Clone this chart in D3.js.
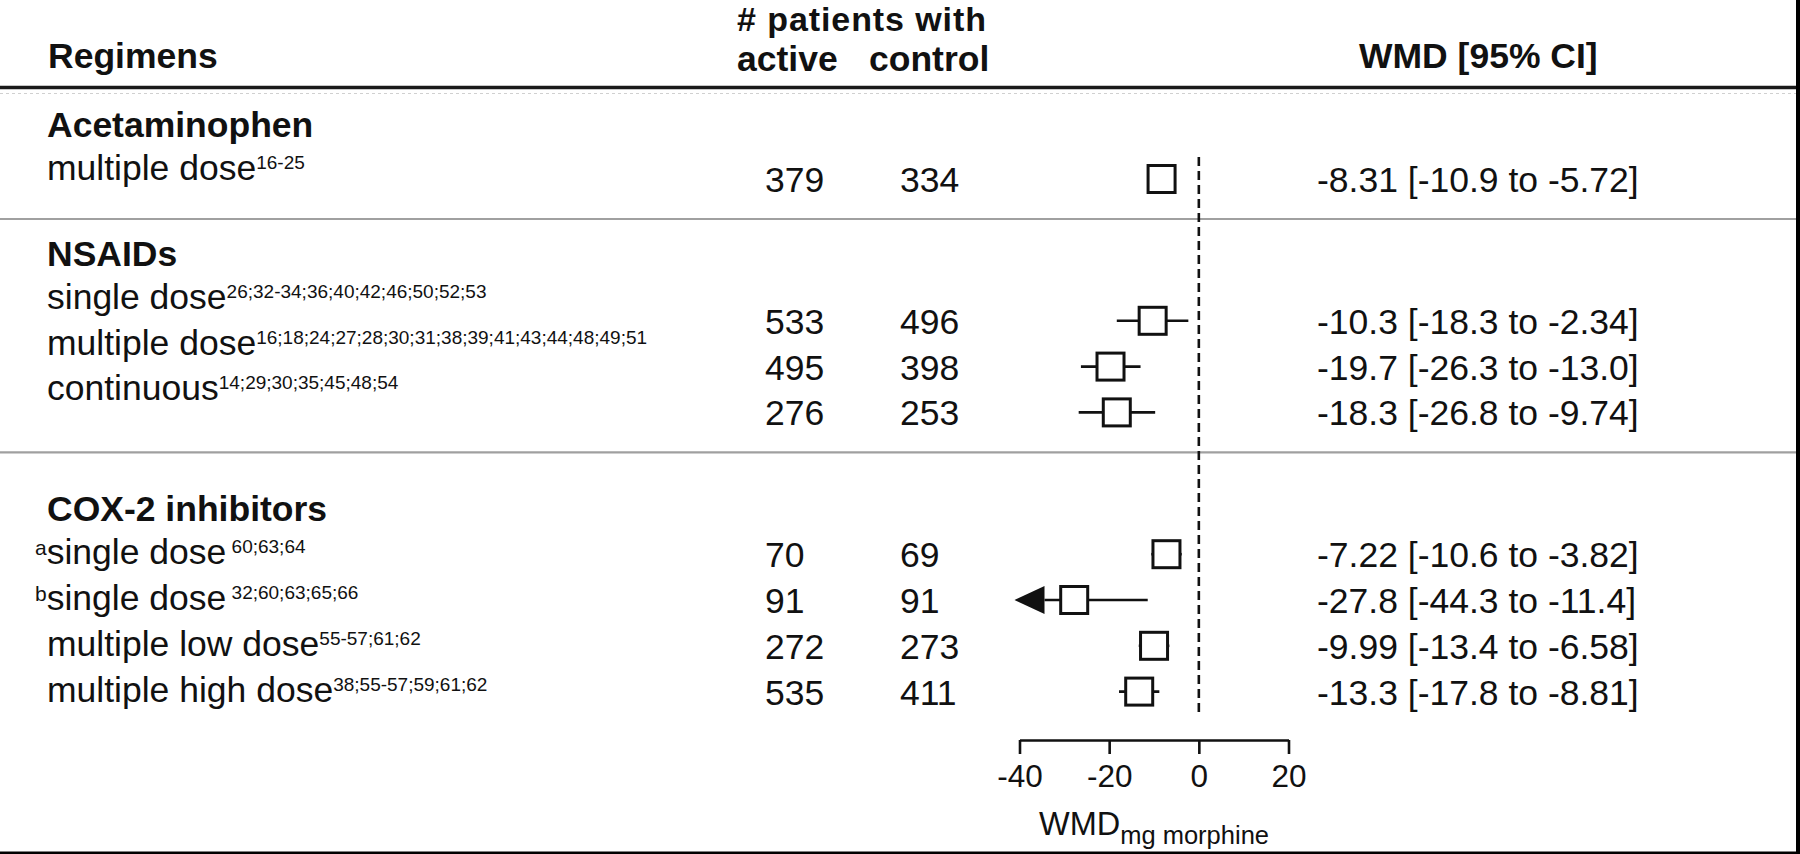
<!DOCTYPE html>
<html>
<head>
<meta charset="utf-8">
<script src="https://cdn.jsdelivr.net/npm/d3@7"></script>
<style>
  html, body { margin: 0; padding: 0; background: #fff; }
  svg { display: block; }
  text { font-family: "Liberation Sans", Arial, sans-serif; fill: #111; }
</style>
</head>
<body>
<script>
// ---------------- data ----------------
const groups = ["Acetaminophen", "NSAIDs", "COX-2 inhibitors"];
const rowGroup = [0, 1, 1, 1, 2, 2, 2, 2];
const rowPrefix = ["", "", "", "", "a", "b", "", ""];
const rowLabels = ["multiple dose", "single dose", "multiple dose", "continuous",
                   "single dose", "single dose", "multiple low dose", "multiple high dose"];
const rowRefs = ["16-25", "26;32-34;36;40;42;46;50;52;53",
                 "16;18;24;27;28;30;31;38;39;41;43;44;48;49;51", "14;29;30;35;45;48;54",
                 " 60;63;64", " 32;60;63;65;66", "55-57;61;62", "38;55-57;59;61;62"];
const activeN  = [379, 533, 495, 276, 70, 91, 272, 535];
const controlN = [334, 496, 398, 253, 69, 91, 273, 411];
const wmd   = [-8.31, -10.3, -19.7, -18.3, -7.22, -27.8, -9.99, -13.3];
const lower = [-10.9, -18.3, -26.3, -26.8, -10.6, -44.3, -13.4, -17.8];
const upper = [-5.72, -2.34, -13.0, -9.74, -3.82, -11.4, -6.58, -8.81];
const tickValues = [-40, -20, 0, 20];
const xDomain = [-40, 20];

// ---------------- layout ----------------
const W = 1800, H = 854;
const FS = 35.5;
const loc = d3.formatLocale({decimal: ".", thousands: ",", grouping: [3], currency: ["$", ""], minus: "-"});
const f3 = loc.format(".3r");

const svg = d3.select("body").append("svg").attr("width", W).attr("height", H);

const x = d3.scaleLinear().domain(xDomain).range([1019.5, 1288.5]);

// row baseline positions from row index and group index
const rowStep = 45.8, groupGap = 96, firstRow = 192;
const rowY = d3.scaleLinear().domain([0, 1]).range([firstRow, firstRow + rowStep]);
const rows = activeN.map((a, i) => ({
  i, g: rowGroup[i], prefix: rowPrefix[i], label: rowLabels[i], refs: rowRefs[i],
  active: a, control: controlN[i], wmd: wmd[i], lo: lower[i], hi: upper[i],
  y: rowY(i) + rowGroup[i] * groupGap
}));
const labelShift = [12, 25, 3];
rows.forEach(r => { r.ly = r.y - labelShift[r.g]; r.my = r.y - 13; });

// ---------------- frame lines ----------------
svg.append("line").attr("x1", 0).attr("x2", 1796).attr("y1", 87.5).attr("y2", 87.5)
  .attr("stroke", "#1a1a1a").attr("stroke-width", 3.5);
svg.append("line").attr("x1", 0).attr("x2", 1796).attr("y1", 93.5).attr("y2", 93.5)
  .attr("stroke", "#d0d0d0").attr("stroke-width", 1.2).attr("stroke-dasharray", "3,3");

groups.forEach((gname, gi) => {
  const gr = rows.filter(r => r.g === gi);
  svg.append("text").attr("x", 47).attr("y", gr[0].ly - 43)
    .attr("font-size", FS).attr("font-weight", "bold").text(gname);
  if (gi < groups.length - 1) {
    const sy = gr[gr.length - 1].y + 27;
    svg.append("line").attr("x1", 0).attr("x2", 1796).attr("y1", sy).attr("y2", sy)
      .attr("stroke", "#a0a0a0").attr("stroke-width", 2.2);
  }
});

// borders (right and bottom)
svg.append("rect").attr("x", 1796).attr("y", 0).attr("width", 4).attr("height", H).attr("fill", "#000");
svg.append("rect").attr("x", 0).attr("y", 851.5).attr("width", W).attr("height", 2.5).attr("fill", "#000");

// ---------------- header ----------------
const hdr = svg.append("g").attr("font-weight", "bold").attr("font-size", FS);
hdr.append("text").attr("x", 48).attr("y", 68).text("Regimens");
hdr.append("text").attr("x", 737).attr("y", 31).attr("font-size", 34).attr("textLength", 249)
  .text("# patients with");
hdr.append("text").attr("x", 737).attr("y", 70.5).text("active");
hdr.append("text").attr("x", 869).attr("y", 70.5).text("control");
hdr.append("text").attr("x", 1359).attr("y", 68).text("WMD [95% CI]");

// ---------------- row labels ----------------
const lab = svg.append("g").selectAll("text").data(rows).join("text")
  .attr("x", d => d.prefix ? 35 : 47).attr("y", d => d.ly).attr("font-size", FS);
lab.filter(d => d.prefix).append("tspan").attr("font-size", 21).attr("dy", -9).text(d => d.prefix);
lab.append("tspan").attr("dy", d => d.prefix ? 9 : 0).text(d => d.label);
lab.append("tspan").attr("font-size", 19).attr("dy", -11).text(d => d.refs);

// ---------------- counts ----------------
svg.append("g").selectAll("text").data(rows).join("text")
  .attr("x", 765).attr("y", d => d.y).attr("font-size", FS).text(d => d.active);
svg.append("g").selectAll("text").data(rows).join("text")
  .attr("x", 900).attr("y", d => d.y).attr("font-size", FS).text(d => d.control);

// ---------------- CI text ----------------
svg.append("g").selectAll("text").data(rows).join("text")
  .attr("x", 1317).attr("y", d => d.y).attr("font-size", FS)
  .text(d => `${f3(d.wmd)} [${f3(d.lo)} to ${f3(d.hi)}]`);

// ---------------- forest plot ----------------
const plot = svg.append("g");
plot.append("line").attr("x1", x(0)).attr("x2", x(0))
  .attr("y1", rows[0].my - 22).attr("y2", rows[rows.length - 1].my + 25)
  .attr("stroke", "#111").attr("stroke-width", 2.6).attr("stroke-dasharray", "9,5");

const sq = 27;
const arrowLen = 30, arrowH = 28;
rows.forEach(r => {
  const clipped = r.lo < xDomain[0];
  const tip = x(xDomain[0]) - 5;
  const x1 = clipped ? tip + arrowLen : x(r.lo);
  plot.append("line").attr("x1", x1).attr("x2", x(r.hi)).attr("y1", r.my).attr("y2", r.my)
    .attr("stroke", "#111").attr("stroke-width", 2.6);
  if (clipped) {
    plot.append("path")
      .attr("d", `M${tip},${r.my} L${tip + arrowLen},${r.my - arrowH / 2} L${tip + arrowLen},${r.my + arrowH / 2} Z`)
      .attr("fill", "#111");
  }
  plot.append("rect").attr("x", x(r.wmd) - sq / 2).attr("y", r.my - sq / 2)
    .attr("width", sq).attr("height", sq)
    .attr("fill", "#fff").attr("stroke", "#111").attr("stroke-width", 3);
});

// ---------------- axis ----------------
const axisY = 740;
const ax = svg.append("g").attr("transform", `translate(0,${axisY})`)
  .call(d3.axisBottom(x).tickValues(tickValues).tickFormat(loc.format("d"))
    .tickSize(14).tickSizeOuter(0).tickPadding(11));
ax.select(".domain").attr("stroke", "#111").attr("stroke-width", 2.6);
ax.selectAll(".tick line").attr("stroke", "#111").attr("stroke-width", 2.6);
ax.selectAll(".tick text").attr("font-size", 31.5).attr("fill", "#111")
  .attr("font-family", "'Liberation Sans', Arial, sans-serif");

const title = svg.append("text").attr("x", (x.range()[0] + x.range()[1]) / 2).attr("y", 835)
  .attr("text-anchor", "middle").attr("font-size", 32.5);
title.append("tspan").text("WMD");
title.append("tspan").attr("font-size", 25.5).attr("dy", 9).text("mg morphine");
</script>
</body>
</html>
